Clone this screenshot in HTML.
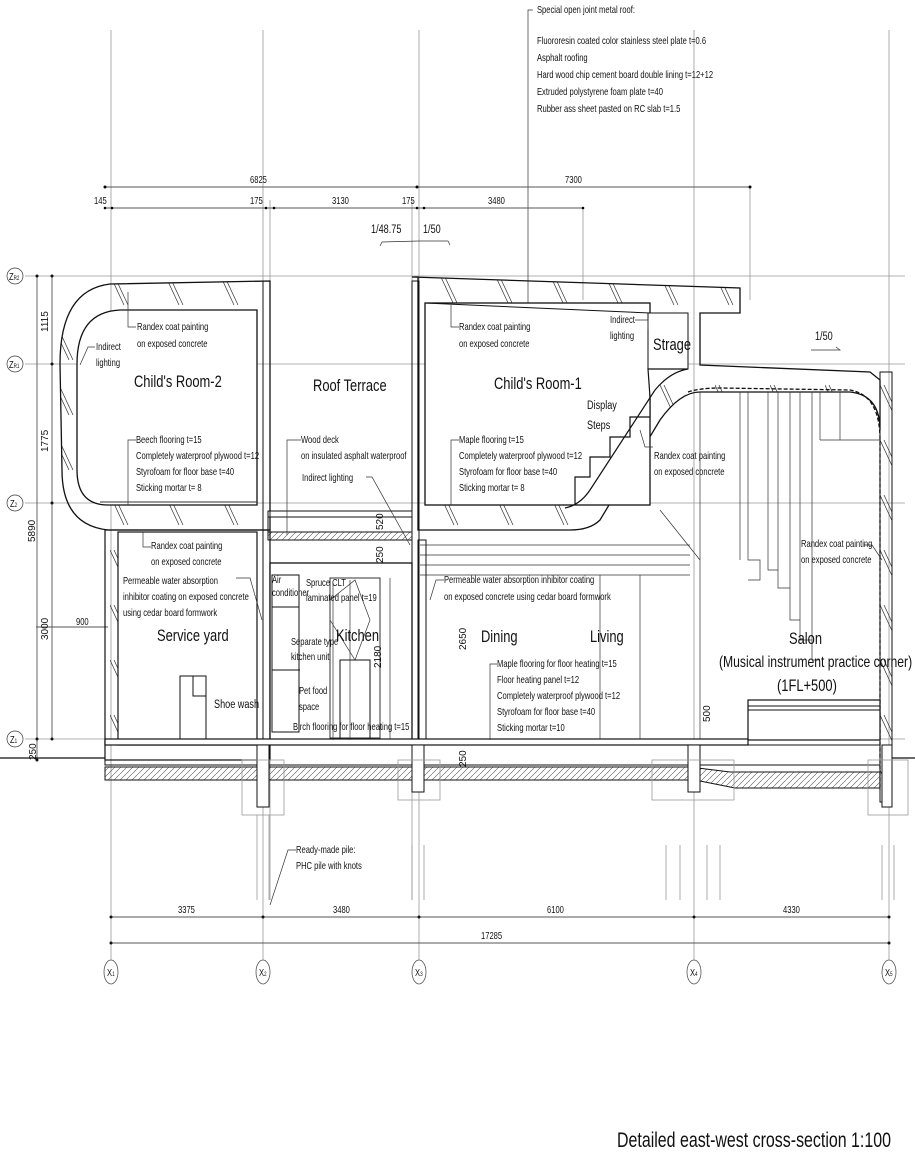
<!DOCTYPE html>
<html><head><meta charset="utf-8"><style>
html,body{margin:0;padding:0;background:#fff;}
svg{display:block;}
text{font-family:"Liberation Sans",sans-serif;fill:#111;}
text:not(.r){transform-box:fill-box;transform-origin:0 50%;transform:scaleX(0.76);}
.s{font-size:10px;}
.m{font-size:12px;}
.l{font-size:17px;}
.g{stroke:#999;stroke-width:0.8;fill:none;}
.t{stroke:#333;stroke-width:0.7;fill:none;}
</style></head><body>
<svg width="915" height="1158" viewBox="0 0 915 1158" xmlns="http://www.w3.org/2000/svg">
<defs>
<pattern id="h" width="55" height="55" patternUnits="userSpaceOnUse">
<line x1="0" y1="0" x2="14" y2="30" stroke="#333" stroke-width="0.7"/>
<line x1="4" y1="0" x2="18" y2="30" stroke="#333" stroke-width="0.7"/>
</pattern>
<pattern id="f" width="6" height="6" patternUnits="userSpaceOnUse">
<line x1="0" y1="6" x2="6" y2="0" stroke="#555" stroke-width="0.6"/>
</pattern>
</defs>

<g class="g">
<line x1="111" y1="30" x2="111" y2="960"/>
<line x1="263" y1="30" x2="263" y2="960"/>
<line x1="419" y1="30" x2="419" y2="960"/>
<line x1="694" y1="30" x2="694" y2="960"/>
<line x1="889" y1="30" x2="889" y2="960"/>
<line x1="270" y1="200" x2="270" y2="900"/>
<line x1="412" y1="200" x2="412" y2="900"/>
<line x1="750" y1="187" x2="750" y2="300"/>
<line x1="583" y1="208" x2="583" y2="300"/>
<line x1="25" y1="276" x2="905" y2="276"/>
<line x1="25" y1="364" x2="905" y2="364"/>
<line x1="25" y1="503" x2="905" y2="503"/>
<line x1="25" y1="739" x2="905" y2="739"/>
</g>

<polyline class="t" points="533,10 528,10 528,360"/>
<text class="s" x="537" y="13">Special open joint metal roof:</text>
<text class="s" x="537" y="44">Fluororesin coated color stainless steel plate t=0.6</text>
<text class="s" x="537" y="61">Asphalt roofing</text>
<text class="s" x="537" y="78">Hard wood chip cement board double lining t=12+12</text>
<text class="s" x="537" y="95">Extruded polystyrene foam plate t=40</text>
<text class="s" x="537" y="112">Rubber ass sheet pasted on RC slab t=1.5</text>

<line x1="105" y1="187" x2="750" y2="187" stroke="#555" stroke-width="1"/>
<circle cx="105" cy="187" r="1.5"/><circle cx="417" cy="187" r="1.5"/><circle cx="750" cy="187" r="1.5"/>
<text class="s" x="250" y="183">6825</text>
<text class="s" x="565" y="183">7300</text>
<line x1="105" y1="208" x2="583" y2="208" stroke="#555" stroke-width="1"/>
<circle cx="105" cy="208" r="1.3"/><circle cx="112" cy="208" r="1.3"/><circle cx="266" cy="208" r="1.3"/><circle cx="274" cy="208" r="1.3"/><circle cx="417" cy="208" r="1.3"/><circle cx="424" cy="208" r="1.3"/><circle cx="583" cy="208" r="1.3"/>
<text class="s" x="94" y="204">145</text>
<text class="s" x="250" y="204">175</text>
<text class="s" x="332" y="204">3130</text>
<text class="s" x="402" y="204">175</text>
<text class="s" x="488" y="204">3480</text>
<text class="m" x="371" y="233">1/48.75</text>
<text class="m" x="423" y="233">1/50</text>
<polyline class="t" points="380,246 382,242 419,241 448,241 450,245"/>
<text class="m" x="815" y="340">1/50</text>
<polyline class="t" points="811,350 840,350 836,347"/>

<g stroke="#555" stroke-width="0.9">
<line x1="37" y1="276" x2="37" y2="760"/>
<line x1="52" y1="276" x2="52" y2="739"/>
<line x1="36" y1="627" x2="108" y2="627"/>
</g>
<g fill="#111"><circle cx="37" cy="276" r="1.5"/><circle cx="52" cy="276" r="1.5"/><circle cx="52" cy="364" r="1.5"/><circle cx="52" cy="503" r="1.5"/><circle cx="37" cy="739" r="1.5"/><circle cx="37" cy="760" r="1.5"/><circle cx="52" cy="739" r="1.5"/></g>
<text class="s r" transform="translate(48,332) rotate(-90)">1115</text>
<text class="s r" transform="translate(48,452) rotate(-90)">1775</text>
<text class="s r" transform="translate(35,542) rotate(-90)">5890</text>
<text class="s r" transform="translate(48,640) rotate(-90)">3000</text>
<text class="s r" transform="translate(36,760) rotate(-90)">250</text>
<text class="s" x="76" y="625">900</text>
<g class="t"><circle cx="15" cy="276" r="8"/><circle cx="15" cy="364" r="8"/><circle cx="15" cy="503" r="8"/><circle cx="15" cy="739" r="8"/></g>
<text class="s" x="9" y="280">Z<tspan font-size="6">R2</tspan></text>
<text class="s" x="9" y="368">Z<tspan font-size="6">R1</tspan></text>
<text class="s" x="10" y="507">Z<tspan font-size="6">2</tspan></text>
<text class="s" x="10" y="743">Z<tspan font-size="6">1</tspan></text>

<line x1="0" y1="758" x2="105" y2="758" stroke="#111" stroke-width="1.2"/>
<line x1="889" y1="758" x2="915" y2="758" stroke="#111" stroke-width="1.2"/>

<path d="M60,364 Q60,290 110,284 L270,281 L270,530 L108,530 Q62,525 62,470 Z" fill="url(#h)" stroke="#111" stroke-width="1.3"/>
<path d="M77,364 Q77,312 120,310 L257,310 L257,505 L108,505 Q77,505 77,470 Z" fill="#fff" stroke="#111" stroke-width="1.3"/>
<line x1="100" y1="502" x2="257" y2="502" stroke="#333" stroke-width="1"/>
<rect x="268" y="511" width="144" height="6" fill="#fff" stroke="#111" stroke-width="1"/>
<rect x="268" y="532" width="144" height="8" fill="url(#f)" stroke="#111" stroke-width="1"/>
<line x1="268" y1="517" x2="268" y2="540" stroke="#111"/><line x1="412" y1="517" x2="412" y2="540" stroke="#111"/>
<rect x="263" y="281" width="7" height="460" fill="url(#h)" stroke="#111" stroke-width="1"/>
<rect x="412" y="281" width="7" height="460" fill="url(#h)" stroke="#111" stroke-width="1"/>

<path d="M412,277 L740,288 L740,313 L700,313 L700,365 L870,372 L880,380 L880,430 Q880,395 850,392 L700,392 Q680,392 660,420 L600,520 Q590,530 570,530 L418,530 L418,277 Z" fill="url(#h)" stroke="#111" stroke-width="1.3"/>
<rect x="425" y="303" width="225" height="202" fill="#fff" stroke="#111" stroke-width="1.3"/>
<line x1="425" y1="303" x2="650" y2="313" stroke="#111" stroke-width="1"/>
<rect x="648" y="313" width="40" height="56" fill="#fff" stroke="#111" stroke-width="1"/>
<path d="M575,505 L575,477 L590,477 L590,457 L610,457 L610,437 L630,437 L630,417 L650,417 L650,397 L648,369 L688,369 Q670,372 655,390 L590,490 Q580,505 565,508" fill="#fff" stroke="#111" stroke-width="1.2"/>
<path d="M688,392 Q700,388 720,388 L850,390 Q880,395 880,440 L880,790" fill="none" stroke="#111" stroke-width="1.3" stroke-dasharray="4,2"/>
<rect x="880" y="372" width="12" height="430" fill="url(#h)" stroke="#111" stroke-width="1"/>
<g class="t">
<line x1="700" y1="392" x2="700" y2="740"/>
<line x1="740" y1="392" x2="740" y2="560"/>
<polyline points="748,392 748,560 760,560 760,580 748,580"/>
<polyline points="768,392 768,570 778,570"/>
<polyline points="778,392 778,588 790,588"/>
<polyline points="790,392 790,620 800,620"/>
<polyline points="800,392 800,640 812,640"/>
<polyline points="812,392 812,660 820,660"/>
<line x1="820" y1="392" x2="820" y2="440"/>
<line x1="840" y1="392" x2="840" y2="440"/>
<line x1="820" y1="440" x2="880" y2="440"/>
<line x1="420" y1="545" x2="690" y2="545"/>
<line x1="420" y1="555" x2="690" y2="555"/>
<line x1="420" y1="565" x2="690" y2="565"/>
<line x1="420" y1="575" x2="690" y2="575"/>
<line x1="600" y1="575" x2="600" y2="740"/>
<line x1="640" y1="575" x2="640" y2="740"/>
<line x1="660" y1="510" x2="700" y2="560"/>
</g>

<rect x="105" y="530" width="165" height="230" fill="url(#h)" stroke="#111" stroke-width="1.2"/>
<rect x="118" y="532" width="139" height="213" fill="#fff" stroke="#111" stroke-width="1.2"/>
<path d="M180,745 L180,676 L206,676 L206,745" fill="#fff" stroke="#111"/>
<rect x="193" y="676" width="13" height="20" fill="#fff" stroke="#111"/>
<rect x="270" y="563" width="142" height="177" fill="#fff" stroke="#111" stroke-width="1.3"/>
<rect x="272" y="575" width="27" height="32" fill="#fff" stroke="#111"/>
<rect x="272" y="607" width="27" height="125" fill="none" stroke="#111"/>
<line x1="272" y1="670" x2="300" y2="670" stroke="#111"/>
<rect x="330" y="578" width="50" height="160" fill="none" stroke="#333"/>
<rect x="340" y="660" width="30" height="80" fill="none" stroke="#111"/>
<path d="M330,600 L355,580 L370,620 L355,660 L330,620" class="t"/>
<line x1="390" y1="578" x2="390" y2="740" class="t"/>

<rect x="418" y="540" width="8" height="200" fill="url(#h)" stroke="#111"/>
<rect x="748" y="700" width="132" height="40" fill="#fff" stroke="#111" stroke-width="1.2"/>
<line x1="748" y1="706" x2="880" y2="706" stroke="#111"/>
<line x1="748" y1="710" x2="880" y2="710" stroke="#111"/>

<rect x="105" y="739" width="643" height="6" fill="#fff" stroke="#111" stroke-width="1.2"/>
<rect x="105" y="745" width="775" height="20" fill="url(#h)" stroke="#111" stroke-width="1"/>
<path d="M105,767 L690,767 L730,772 L880,772 L880,788 L735,788 L695,780 L105,780 Z" fill="url(#f)" stroke="#111" stroke-width="1"/>
<g fill="#fff" stroke="#111" stroke-width="1">
<rect x="257" y="745" width="12" height="62"/>
<rect x="412" y="745" width="12" height="47"/>
<rect x="688" y="745" width="12" height="47"/>
<rect x="882" y="745" width="10" height="62"/>
</g>
<g class="g">
<rect x="242" y="760" width="42" height="55"/>
<rect x="398" y="760" width="42" height="40"/>
<rect x="652" y="760" width="82" height="40"/>
<rect x="868" y="760" width="40" height="55"/>
<line x1="257" y1="815" x2="257" y2="900"/><line x1="269" y1="815" x2="269" y2="900"/>
<line x1="412" y1="845" x2="412" y2="900"/><line x1="424" y1="845" x2="424" y2="900"/>
<line x1="666" y1="845" x2="666" y2="900"/><line x1="680" y1="845" x2="680" y2="900"/>
<line x1="707" y1="845" x2="707" y2="900"/><line x1="720" y1="845" x2="720" y2="900"/>
<line x1="882" y1="845" x2="882" y2="900"/><line x1="894" y1="845" x2="894" y2="900"/>
</g>

<line x1="111" y1="917" x2="889" y2="917" stroke="#555" stroke-width="1"/>
<line x1="111" y1="943" x2="889" y2="943" stroke="#555" stroke-width="1"/>
<g fill="#111"><circle cx="111" cy="917" r="1.5"/><circle cx="263" cy="917" r="1.5"/><circle cx="419" cy="917" r="1.5"/><circle cx="694" cy="917" r="1.5"/><circle cx="889" cy="917" r="1.5"/><circle cx="111" cy="943" r="1.5"/><circle cx="889" cy="943" r="1.5"/></g>
<text class="s" x="178" y="913">3375</text>
<text class="s" x="333" y="913">3480</text>
<text class="s" x="547" y="913">6100</text>
<text class="s" x="783" y="913">4330</text>
<text class="s" x="481" y="939">17285</text>
<g fill="#fff" stroke="#555" stroke-width="0.8">
<ellipse cx="111" cy="972" rx="7" ry="12"/><ellipse cx="263" cy="972" rx="7" ry="12"/><ellipse cx="419" cy="972" rx="7" ry="12"/><ellipse cx="694" cy="972" rx="7" ry="12"/><ellipse cx="889" cy="972" rx="7" ry="12"/>
</g>
<text class="s" x="107" y="976">X<tspan font-size="6">1</tspan></text>
<text class="s" x="259" y="976">X<tspan font-size="6">2</tspan></text>
<text class="s" x="415" y="976">X<tspan font-size="6">3</tspan></text>
<text class="s" x="690" y="976">X<tspan font-size="6">4</tspan></text>
<text class="s" x="885" y="976">X<tspan font-size="6">5</tspan></text>

<g class="t">
<polyline points="136,327 128,327 128,292"/>
<polyline points="95,347 88,347 80,365"/>
<polyline points="136,440 128,440 128,505"/>
<polyline points="301,440 287,440 287,535"/>
<polyline points="366,477 372,477 410,545"/>
<polyline points="151,547 143,547 143,532"/>
<polyline points="236,578 250,578 262,620"/>
<polyline points="459,327 451,327 451,305"/>
<polyline points="635,320 648,320 648,330"/>
<polyline points="459,440 451,440 451,505"/>
<polyline points="653,447 645,447 640,430"/>
<polyline points="864,545 872,545 882,560"/>
<polyline points="444,580 436,580 430,600"/>
<polyline points="497,664 490,664 490,740"/>
<polyline points="296,850 288,850 270,905"/>
<line x1="350" y1="580" x2="350" y2="740"/>
<line x1="333" y1="583" x2="333" y2="740"/>
</g>

<text class="s" x="137" y="330">Randex coat painting</text>
<text class="s" x="137" y="347">on exposed concrete</text>
<text class="s" x="96" y="350">Indirect</text>
<text class="s" x="96" y="366">lighting</text>
<text class="l" x="134" y="387">Child's Room-2</text>
<text class="s" x="136" y="443">Beech flooring t=15</text>
<text class="s" x="136" y="459">Completely waterproof plywood t=12</text>
<text class="s" x="136" y="475">Styrofoam for floor base  t=40</text>
<text class="s" x="136" y="491">Sticking mortar  t= 8</text>
<text class="l" x="313" y="391">Roof Terrace</text>
<text class="s" x="301" y="443">Wood deck</text>
<text class="s" x="301" y="459">on insulated asphalt waterproof</text>
<text class="s" x="302" y="481">Indirect lighting</text>
<text class="s r" transform="translate(383,530) rotate(-90)">520</text>
<text class="s r" transform="translate(383,563) rotate(-90)">250</text>
<text class="s" x="459" y="330">Randex coat painting</text>
<text class="s" x="459" y="347">on exposed concrete</text>
<text class="s" x="610" y="323">Indirect</text>
<text class="s" x="610" y="339">lighting</text>
<text class="l" x="653" y="350">Strage</text>
<text class="l" x="494" y="389">Child's Room-1</text>
<text class="m" x="587" y="409">Display</text>
<text class="m" x="587" y="429">Steps</text>
<text class="s" x="459" y="443">Maple flooring t=15</text>
<text class="s" x="459" y="459">Completely waterproof plywood  t=12</text>
<text class="s" x="459" y="475">Styrofoam for floor base  t=40</text>
<text class="s" x="459" y="491">Sticking mortar  t= 8</text>
<text class="s" x="654" y="459">Randex coat painting</text>
<text class="s" x="654" y="475">on exposed concrete</text>
<text class="s" x="151" y="549">Randex coat painting</text>
<text class="s" x="151" y="565">on exposed concrete</text>
<text class="s" x="123" y="584">Permeable water absorption</text>
<text class="s" x="123" y="600">inhibitor coating on exposed concrete</text>
<text class="s" x="123" y="616">using cedar board formwork</text>
<text class="l" x="157" y="641">Service yard</text>
<text class="m" x="214" y="708">Shoe wash</text>
<text class="s" x="272" y="583" font-size="8">Air</text>
<text class="s" x="272" y="596" font-size="8">conditioner</text>
<text class="s" x="306" y="586">Spruce CLT</text>
<text class="s" x="306" y="601">laminated panel t=19</text>
<text class="l" x="336" y="641">Kitchen</text>
<text class="s" x="291" y="645">Separate type</text>
<text class="s" x="291" y="660">kitchen unit</text>
<text class="s r" transform="translate(381,668) rotate(-90)">2180</text>
<text class="s" x="299" y="694">Pet food</text>
<text class="s" x="299" y="710">space</text>
<text class="s" x="293" y="730">Birch flooring for floor heating t=15</text>
<text class="s" x="444" y="583">Permeable water absorption inhibitor coating</text>
<text class="s" x="444" y="600">on exposed concrete using cedar board formwork</text>
<text class="s r" transform="translate(466,650) rotate(-90)">2650</text>
<text class="s r" transform="translate(466,767) rotate(-90)">250</text>
<text class="l" x="481" y="642">Dining</text>
<text class="l" x="590" y="642">Living</text>
<text class="s" x="497" y="667">Maple flooring for floor heating  t=15</text>
<text class="s" x="497" y="683">Floor heating panel    t=12</text>
<text class="s" x="497" y="699">Completely waterproof plywood  t=12</text>
<text class="s" x="497" y="715">Styrofoam for floor base  t=40</text>
<text class="s" x="497" y="731">Sticking mortar  t=10</text>
<text class="s" x="801" y="547">Randex coat painting</text>
<text class="s" x="801" y="563">on exposed concrete</text>
<text class="l" x="789" y="644">Salon</text>
<text class="l" x="719" y="667" style="font-size:16px">(Musical instrument practice corner)</text>
<text class="l" x="777" y="691">(1FL+500)</text>
<text class="s r" transform="translate(710,722) rotate(-90)">500</text>
<text class="s" x="296" y="853">Ready-made pile:</text>
<text class="s" x="296" y="869">PHC pile with knots</text>

<text x="617" y="1147" style="font-size:21px;">Detailed east-west cross-section  1:100</text>
</svg>
</body></html>
